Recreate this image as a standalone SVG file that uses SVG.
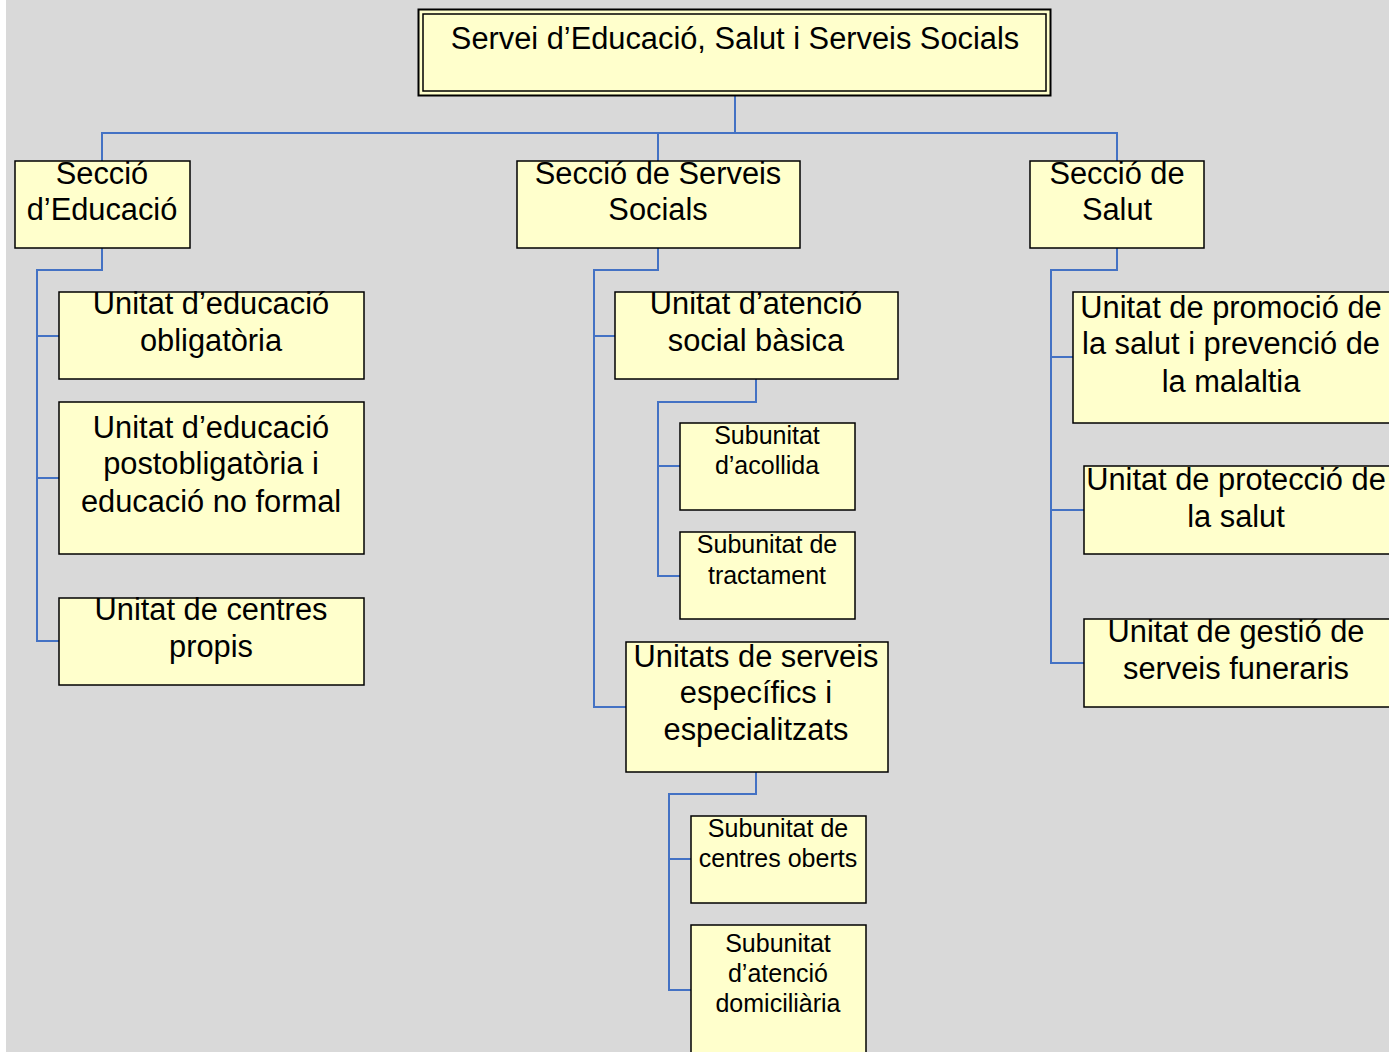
<svg xmlns="http://www.w3.org/2000/svg" width="1389" height="1052" viewBox="0 0 1389 1052">
<style>
.box{fill:#ffffcc;stroke:#000;stroke-width:1.5}
.t{font-family:"Liberation Sans",Arial,sans-serif;font-size:30.8px;fill:#000;text-anchor:middle}
.s{font-family:"Liberation Sans",Arial,sans-serif;font-size:25px;fill:#000;text-anchor:middle}
.c{fill:none;stroke:#4472c4;stroke-width:2}
</style>
<rect x="0" y="0" width="1389" height="1052" fill="#ffffff"/>
<rect x="6" y="0" width="1383" height="1052" fill="#d9d9d9"/>
<g id="connectors">
<path class="c" d="M735 96V133M102 161V133H1117V161M658 133V161"/>
<path class="c" d="M102 248V270H37V641H59M37 336H59M37 478H59"/>
<path class="c" d="M658 248V270H594V707H626M594 336H615"/>
<path class="c" d="M756 379V402H658V576H680M658 466H680"/>
<path class="c" d="M756 772V794H669V990H691M669 859H691"/>
<path class="c" d="M1117 248V270H1051V663H1084M1051 357H1073M1051 510H1084"/>
</g>
<g id="n-servei">
<rect x="418.5" y="9.5" width="632" height="86" fill="#ffffcc" stroke="#000" stroke-width="2"/>
<rect x="423" y="14" width="623" height="77" fill="none" stroke="#000" stroke-width="1.5"/>
<text class="t" x="735" y="49">Servei d’Educació, Salut i Serveis Socials</text>
</g>
<g id="n-educacio">
<rect class="box" x="15" y="161" width="175" height="87"/>
<text class="t" x="102" y="184">Secció</text>
<text class="t" x="102" y="220">d’Educació</text>
</g>
<g id="n-serveis-socials">
<rect class="box" x="517" y="161" width="283" height="87"/>
<text class="t" x="658" y="184">Secció de Serveis</text>
<text class="t" x="658" y="220">Socials</text>
</g>
<g id="n-salut">
<rect class="box" x="1030" y="161" width="174" height="87"/>
<text class="t" x="1117" y="184">Secció de</text>
<text class="t" x="1117" y="220">Salut</text>
</g>
<g id="n-obligatoria">
<rect class="box" x="59" y="292" width="305" height="87"/>
<text class="t" x="211" y="314">Unitat d’educació</text>
<text class="t" x="211" y="351">obligatòria</text>
</g>
<g id="n-postobligatoria">
<rect class="box" x="59" y="402" width="305" height="152"/>
<text class="t" x="211" y="438">Unitat d’educació</text>
<text class="t" x="211" y="474">postobligatòria i</text>
<text class="t" x="211" y="512">educació no formal</text>
</g>
<g id="n-centres-propis">
<rect class="box" x="59" y="598" width="305" height="87"/>
<text class="t" x="211" y="620">Unitat de centres</text>
<text class="t" x="211" y="657">propis</text>
</g>
<g id="n-atencio-basica">
<rect class="box" x="615" y="292" width="283" height="87"/>
<text class="t" x="756" y="314">Unitat d’atenció</text>
<text class="t" x="756" y="351">social bàsica</text>
</g>
<g id="n-acollida">
<rect class="box" x="680" y="423" width="175" height="87"/>
<text class="s" x="767" y="444">Subunitat</text>
<text class="s" x="767" y="474">d’acollida</text>
</g>
<g id="n-tractament">
<rect class="box" x="680" y="532" width="175" height="87"/>
<text class="s" x="767" y="553">Subunitat de</text>
<text class="s" x="767" y="584">tractament</text>
</g>
<g id="n-especifics">
<rect class="box" x="626" y="642" width="262" height="130"/>
<text class="t" x="756" y="667">Unitats de serveis</text>
<text class="t" x="756" y="703">específics i</text>
<text class="t" x="756" y="740">especialitzats</text>
</g>
<g id="n-centres-oberts">
<rect class="box" x="691" y="816" width="175" height="87"/>
<text class="s" x="778" y="837">Subunitat de</text>
<text class="s" x="778" y="867">centres oberts</text>
</g>
<g id="n-domiciliaria">
<rect class="box" x="691" y="925" width="175" height="140"/>
<text class="s" x="778" y="952">Subunitat</text>
<text class="s" x="778" y="982">d’atenció</text>
<text class="s" x="778" y="1012">domiciliària</text>
</g>
<g id="n-promocio">
<rect class="box" x="1073" y="292" width="330" height="131"/>
<text class="t" x="1231" y="318">Unitat de promoció de</text>
<text class="t" x="1231" y="354">la salut i prevenció de</text>
<text class="t" x="1231" y="392">la malaltia</text>
</g>
<g id="n-proteccio">
<rect class="box" x="1084" y="466" width="320" height="88"/>
<text class="t" x="1236" y="490">Unitat de protecció de</text>
<text class="t" x="1236" y="527">la salut</text>
</g>
<g id="n-funeraris">
<rect class="box" x="1084" y="619" width="320" height="88"/>
<text class="t" x="1236" y="642">Unitat de gestió de</text>
<text class="t" x="1236" y="679">serveis funeraris</text>
</g>
</svg>
